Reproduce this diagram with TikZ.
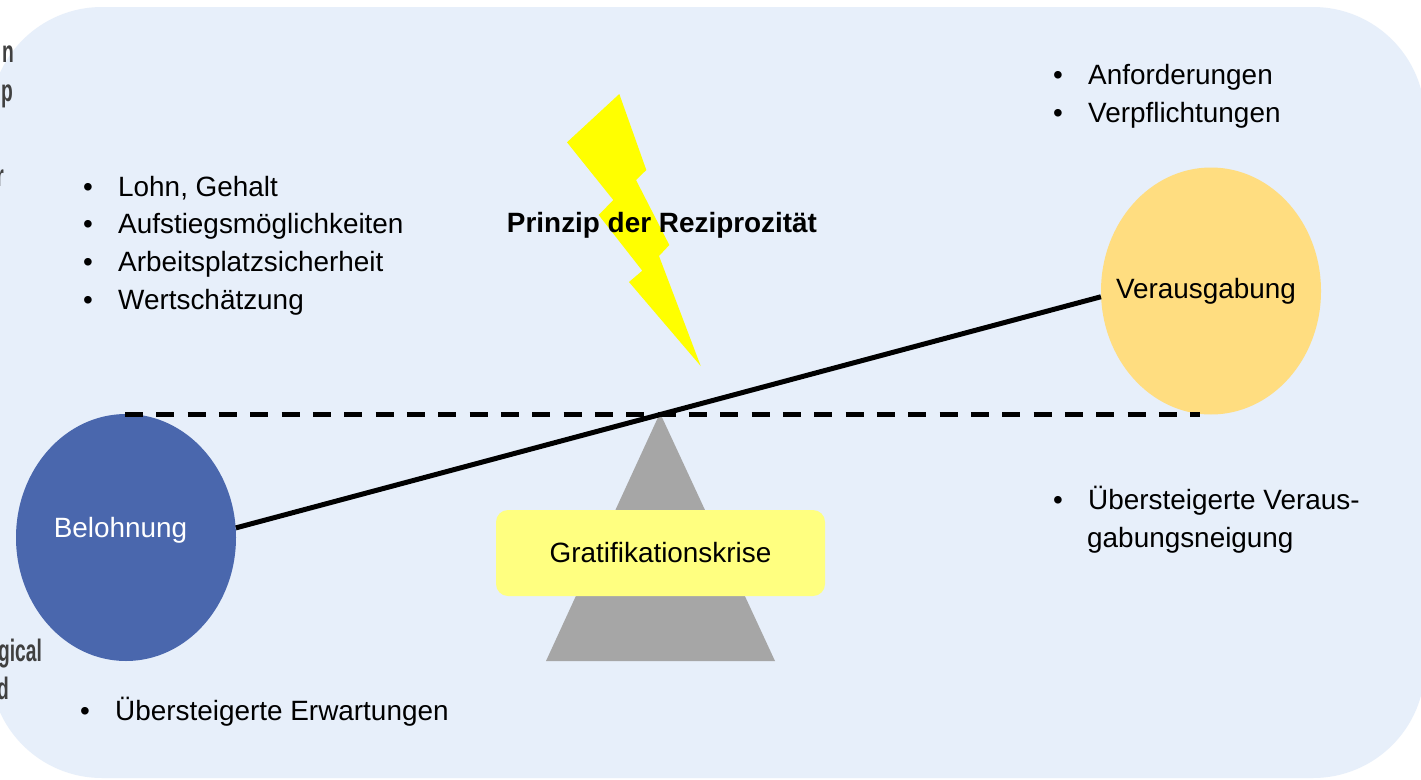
\documentclass[tikz,border=0pt]{standalone}
\usepackage{fontspec}
\setmainfont{Liberation Sans}
\usetikzlibrary{shapes.geometric}
\definecolor{bgblue}{HTML}{E7EFFA}
\definecolor{belblue}{HTML}{4A67AD}
\definecolor{veryellow}{HTML}{FFDD80}
\definecolor{boxyellow}{HTML}{FFFF80}
\definecolor{boltyellow}{HTML}{FFFF00}
\definecolor{trigray}{HTML}{A6A6A6}
\definecolor{ghost}{HTML}{404040}
\newcommand{\mainsize}{\fontsize{27.9}{30}\selectfont}
\tikzset{
  txt/.style={anchor=base west,inner sep=0pt,font=\mainsize},
  bul/.style={anchor=base,inner sep=0pt,font=\mainsize},
  ghosttxt/.style={anchor=base east,inner sep=0pt,text=ghost,xscale=0.62,transform shape,font=\fontsize{31}{31}\selectfont\bfseries},
  disc/.style={ellipse,minimum width=220pt,minimum height=247pt,inner sep=0pt},
  beam/.style={line width=5pt,black},
}
\begin{document}
\begin{tikzpicture}[x=1pt,y=-1pt]
\useasboundingbox (0,0) rectangle (1421,779);
\begin{scope}
\clip (0,0) rectangle (1421,779);
\fill[white] (0,0) rectangle (1421,779);
\fill[bgblue,rounded corners=112pt] (-10,7) rectangle (1425,778);
% cropped fragments at the left edge
\node[ghosttxt] (g1) at (14,62) {n};
\node[ghosttxt] (g2) at (13,101) {p};
\node[ghosttxt] (g3) at (4,186) {r};
\node[ghosttxt] (g4) at (42,661) {gical};
\node[ghosttxt] (g5) at (9,699) {d};
% lightning
\fill[boltyellow] (619.3,94) -- (567,142.3) -- (613.3,200) -- (598.7,215) -- (642.3,270.7) -- (629,282)
  -- (700.7,366) -- (659,256) -- (669.3,245) -- (636,180) -- (646.3,170) -- cycle;
% triangle
\fill[trigray] (660,413) -- (775,661) -- (546,661) -- cycle;
\node[disc,fill=belblue] (bel) at (126,537.5) {};
\node[disc,fill=veryellow] (ver) at (1211,291) {};
\coordinate (dl) at (125,414);
\coordinate (dr) at (1200,414);
\draw[line width=5pt,dash pattern=on 18pt off 13.33pt] (dl) -- (dr);
\node[anchor=base,inner sep=0pt,text=white,font=\mainsize] (beltxt) at (120.5,537) {Belohnung};
\node[anchor=base,inner sep=0pt,font=\mainsize] (vertxt) at (1206,298) {Verausgabung};
\draw[beam] (bel.5.5) -- (ver.183.7);
\node[fill=boxyellow,rounded corners=12pt,minimum width=329pt,minimum height=86pt,inner sep=0pt,font=\mainsize] (krise) at (660.5,553) {Gratifikationskrise};
\node[anchor=base,inner sep=0pt,font=\mainsize\bfseries] (prinzip) at (662,232) {Prinzip der Reziprozität};
% left list
\node[bul] (b1) at (88,196) {•}; \node[txt] (t1) at (118,196) {Lohn, Gehalt};
\node[bul] (b2) at (88,233) {•}; \node[txt] (t2) at (118,233) {Aufstiegsmöglichkeiten};
\node[bul] (b3) at (88,271) {•}; \node[txt] (t3) at (118,271) {Arbeitsplatzsicherheit};
\node[bul] (b4) at (88,309) {•}; \node[txt] (t4) at (118,309) {Wertschätzung};
% right top list
\node[bul] (b5) at (1058,84) {•}; \node[txt] (t5) at (1088,84) {Anforderungen};
\node[bul] (b6) at (1058,122) {•}; \node[txt] (t6) at (1088,122) {Verpflichtungen};
% right lower list
\node[bul] (b7) at (1058,509) {•}; \node[txt] (t7) at (1088,509) {Übersteigerte Verau\rlap{s-}};
\node[txt] (t8) at (1087,547) {gabungsneigung};
% bottom left
\node[bul] (b9) at (85,720) {•}; \node[txt] (t9) at (115,720) {Übersteigerte Erwartungen};
\end{scope}
\end{tikzpicture}
\end{document}
